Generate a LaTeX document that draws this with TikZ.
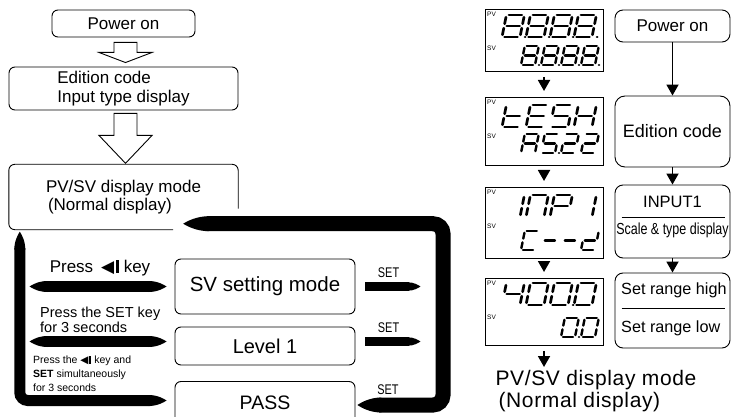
\documentclass[tikz,border=0pt]{standalone}
\usepackage{fontspec}
\setmainfont{Liberation Sans}
\newfontfamily\narrowfont[FakeStretch=0.78]{Liberation Sans}
\newfontfamily\symbfont{DejaVu Sans}
\newfontfamily\widefont[LetterSpace=3]{Liberation Sans}
\usetikzlibrary{arrows.meta,calc,positioning}

% pointed end of the fat bars
\pgfdeclarearrow{
  name = Leaf,
  parameters = {\the\pgfarrowlength,\the\pgfarrowwidth},
  setup code = {
    \pgfarrowssettipend{0pt}
    \pgfarrowssetbackend{-\pgfarrowlength}
    \pgfarrowssetlineend{-0.9\pgfarrowlength}
    \pgfarrowssavethe\pgfarrowlength
    \pgfarrowssavethe\pgfarrowwidth
  },
  drawing code = {
    \pgfpathmoveto{\pgfqpoint{-\pgfarrowlength}{.5\pgfarrowwidth}}
    \pgfpathcurveto{\pgfqpoint{-.5\pgfarrowlength}{.5\pgfarrowwidth}}
      {\pgfqpoint{-.15\pgfarrowlength}{.16\pgfarrowwidth}}{\pgfpointorigin}
    \pgfpathcurveto{\pgfqpoint{-.15\pgfarrowlength}{-.16\pgfarrowwidth}}
      {\pgfqpoint{-.5\pgfarrowlength}{-.5\pgfarrowwidth}}{\pgfqpoint{-\pgfarrowlength}{-.5\pgfarrowwidth}}
    \pgfpathclose
    \pgfusepathqfill
  },
  defaults = {length=12pt, width=10pt}
}

% seven segment pieces in a unit cell
\tikzset{
  seg a/.style={insert path={(0.14,1) -- (0.86,1)}},
  seg b/.style={insert path={(1,0.9) -- (1,0.6)}},
  seg c/.style={insert path={(1,0.4) -- (1,0.1)}},
  seg d/.style={insert path={(0.14,0) -- (0.86,0)}},
  seg e/.style={insert path={(0,0.4) -- (0,0.1)}},
  seg f/.style={insert path={(0,0.9) -- (0,0.6)}},
  seg g/.style={insert path={(0.14,0.5) -- (0.86,0.5)}},
  seg p/.style={insert path={(1.28,0) -- (1.29,0)}},
}
\newcommand{\segdigit}[5]{%
  \begin{scope}[shift={(#1,#2)}, x=#3pt, y=#4pt, xslant=0.2]
    \foreach \s in {#5} \draw[segline] (0,0) [seg \s];
  \end{scope}}
\newcommand{\pvdig}[3]{\begin{scope}[segline/.append style={line width=2.7pt}]
  \segdigit{502+24*#1}{#2}{18}{22}{#3}\end{scope}}
\newcommand{\svdig}[3]{\begin{scope}[segline/.append style={line width=2.4pt}]
  \segdigit{521+20*#1}{#2}{14}{19}{#3}\end{scope}}
\newcommand{\keyicon}{{\symbfont ◀}\kern0.08em\rule[-0.02em]{0.2em}{0.74em}}

\begin{document}
\begin{tikzpicture}[x=1pt, y=-1pt,
    box/.style={draw, rounded corners=6pt, line width=0.9pt, inner sep=0pt},
    rbox/.style={draw, rounded corners=8pt, line width=0.9pt, inner sep=0pt,
      minimum width=115pt, font=\fontsize{17}{19}\selectfont},
    hollow/.style={draw, line width=0.9pt, line join=miter},
    fatbar/.style={line width=11pt, {Leaf[length=18pt,width=11pt]}-{Leaf[length=18pt,width=11pt]}},
    loopbar/.style={line width=15pt, rounded corners=10pt,
      {Leaf[length=26pt,width=15pt]}-{Leaf[length=24pt,width=15pt]}},
    setbar/.style={line width=8.5pt, -{Leaf[length=13pt,width=8.5pt]}},
    setlbl/.style={font=\narrowfont\fontsize{14}{14}\selectfont, inner sep=0pt},
    lcd/.style={draw, line width=0.9pt, minimum width=118pt, inner sep=0pt},
    tag/.style={font=\fontsize{6.5}{7}\selectfont, inner sep=0pt},
    segline/.style={line width=2.2pt, line cap=round},
    darrow/.style={line width=1.8pt, -{Triangle[length=11pt,width=12pt]}}]
  \useasboundingbox (0,0) rectangle (731,417);
  \clip (0,0) rectangle (731,417);

  % left: start up
  \node[box, minimum width=143pt, minimum height=27pt,
        font=\fontsize{17}{19}\selectfont] (power) at (123.5,23.5) {Power on};
  \node[box, minimum width=229pt, minimum height=43pt, align=left,
        font=\fontsize{17}{19}\selectfont] (edition) at (123.5,88.5)
        {Edition code\\Input type display};
  \node[minimum width=229pt, minimum height=65pt, align=left, inner sep=0pt,
        font=\fontsize{17}{18}\selectfont] (normal) at (123.5,197)
        {PV/SV display mode\\\hspace{2pt}(Normal display)};
  \draw[line width=0.9pt, rounded corners=6pt] ([yshift=-11.5pt]normal.east) -- (normal.north east)
     -- (normal.north west) -- (normal.south west) -- ([xshift=49.5pt]normal.south);

  % open arrows
  \draw[hollow] ($(power.south)+(-9.5,5)$) -- ++(0,10) -- ++(-15,0) -- ($(edition.north)+(2,-4)$)
     -- ($(power.south)+(28.5,15)$) -- ++(-15,0) -- ++(0,-10) -- cycle;
  \draw[hollow] ($(edition.south)+(-9.5,3)$) -- ++(0,22) -- ++(-15,0) -- ($(normal.north)+(2,-1)$)
     -- ($(edition.south)+(28.5,25)$) -- ++(-15,0) -- ++(0,-22) -- cycle;

  % modes
  \node[box, minimum width=180pt, minimum height=55pt,
        font=\fontsize{20.5}{22}\selectfont] (svset) at (265,286.5) {SV setting mode};
  \node[box, minimum width=180pt, minimum height=38pt,
        font=\fontsize{20}{22}\selectfont] (level) at (265,346) {Level 1};
  \node[box, minimum width=180pt, minimum height=42pt,
        font=\fontsize{19.5}{22}\selectfont] (pass) at (265,402.5) {PASS};

  % way back
  \draw[fatbar] ([xshift=-145pt]svset.west) -- ([xshift=-8pt]svset.west);
  \draw[fatbar] ([xshift=-145pt,yshift=4.5pt]level.west) -- ([xshift=-8pt,yshift=4.5pt]level.west);
  \draw[fatbar, rounded corners=8pt] ([xshift=11pt,yshift=-2pt]normal.south west)
     |- ([xshift=-8pt,yshift=2pt]pass.west);
  \node[font=\fontsize{17}{19}\selectfont, inner sep=0pt] (presskey) at (100,268)
     {Press\hspace{8pt}\keyicon\ key};
  \node[font=\fontsize{14.5}{15}\selectfont, align=left, inner sep=0pt, anchor=west]
     (pressset) at (40,319.5) {Press the SET key\\for 3 seconds};
  \node[font=\fontsize{10.5}{14}\selectfont, align=left, inner sep=0pt, anchor=west]
     (pressboth) at (33,374) {Press the \keyicon\ key and\\\textbf{SET} simultaneously\\for 3 seconds};

  % SET keys
  \draw[setbar] ([xshift=10pt]svset.east) -- node[setlbl, above=5pt, pos=0.42] (set1) {SET}
     ([xshift=65pt]svset.east);
  \draw[setbar] ([xshift=10pt,yshift=4.5pt]level.east) -- node[setlbl, above=5pt, pos=0.42] (set2) {SET}
     ([xshift=65pt,yshift=4.5pt]level.east);
  \coordinate (loopc) at (443,405);
  \draw[loopbar] ([xshift=-55pt,yshift=6pt]normal.south east) -| (loopc)
     -- ([xshift=2pt,yshift=-2.5pt]pass.east);
  \node[setlbl] (set3) at (388,390) {SET};

  % right: displays
  \foreach \n/\t/\h in {1/9/62, 2/97/68, 3/187/71, 4/278/67} {
    \node[lcd, minimum height=\h pt, anchor=north] (disp\n) at (544,\t) {};
    \node[tag, anchor=north west] (pv\n) at (487,\t+3) {PV};
    \node[tag, anchor=north west] (sv\n) at (487,\t+37) {SV};
  }
  \foreach \a/\b in {1/2, 2/3, 3/4}
    \draw[darrow] ([yshift=-5pt]disp\a.south) -- ([yshift=6pt]disp\b.north);
  \coordinate (dend) at (544,367);
  \draw[darrow] ([yshift=-5pt]disp4.south) -- (dend);

  % 8.8.8.8.
  \foreach \k in {0,...,3} {
    \pvdig{\k}{37}{a,b,c,d,e,f,g,p}
    \svdig{\k}{65}{a,b,c,d,e,f,g,p}
  }
  % tESH / A5.22
  \pvdig{0}{127}{d,e,f,g}
  \pvdig{1}{127}{a,d,e,f,g}
  \pvdig{2}{127}{a,c,d,f,g}
  \pvdig{3}{127}{b,c,e,f,g}
  \svdig{0}{153}{a,b,c,e,f,g}
  \svdig{1}{153}{a,c,d,f,g,p}
  \svdig{2}{153}{a,b,d,e,g}
  \svdig{3}{153}{a,b,d,e,g}
  % INP1 / C--
  \pvdig{0}{217}{b,c}
  \pvdig{1}{217}{a,b,c,e,f}
  \pvdig{2}{217}{a,b,e,f,g}
  \pvdig{3}{217}{b,c}
  \svdig{0}{250}{a,d,e,f}
  \svdig{1}{250}{g}
  \svdig{2}{250}{g}
  \svdig{3}{250}{b,d,e,g}
  % 400.0 / 0.0
  \pvdig{0}{305}{b,c,f,g}
  \pvdig{1}{305}{a,b,c,d,e,f}
  \pvdig{2}{305}{a,b,c,d,e,f,p}
  \pvdig{3}{305}{a,b,c,d,e,f}
  \svdig{2}{337}{a,b,c,d,e,f,p}
  \svdig{3}{337}{a,b,c,d,e,f}

  \node[font=\widefont\fontsize{21}{22}\selectfont, align=left, inner sep=0pt] (rnormal) at (596,391)
     {PV/SV display mode\\\hspace{3pt}(Normal display)};

  % right: steps
  \node[rbox, minimum height=32pt] (rpower) at (672.5,26) {Power on};
  \node[rbox, minimum height=71pt, rounded corners=10pt, font=\fontsize{18}{20}\selectfont]
     (redition) at (672.5,131.5) {Edition code};
  \node[rbox, minimum height=73pt] (rinput) at (672.5,221.5) {};
  \node[rbox, minimum height=75pt] (rrange) at (672.5,310.5) {};
  \node[font=\fontsize{16.5}{18}\selectfont, inner sep=0pt] (inputtxt) at (672.5,202) {INPUT1};
  \node[font=\narrowfont\fontsize{16}{18}\selectfont, inner sep=0pt] (scaletxt) at (672.5,230)
     {Scale \& type display};
  \node[font=\fontsize{16.2}{19}\selectfont, inner sep=0pt, anchor=west] (hightxt) at (621,290)
     {Set range high};
  \node[font=\fontsize{16.2}{19}\selectfont, inner sep=0pt, anchor=west] (lowtxt) at (621,328)
     {Set range low};
  \draw[line width=0.9pt] ([xshift=7pt,yshift=4.5pt]rinput.west) -- ([xshift=-5pt,yshift=4.5pt]rinput.east);
  \draw[line width=0.9pt] ([xshift=7pt,yshift=2.5pt]rrange.west) -- ([xshift=-5pt,yshift=2.5pt]rrange.east);
  \draw[darrow] (rpower) -- (redition);
  \draw[darrow] (redition) -- (rinput);
  \draw[darrow] (rinput) -- (rrange);
\end{tikzpicture}
\end{document}
